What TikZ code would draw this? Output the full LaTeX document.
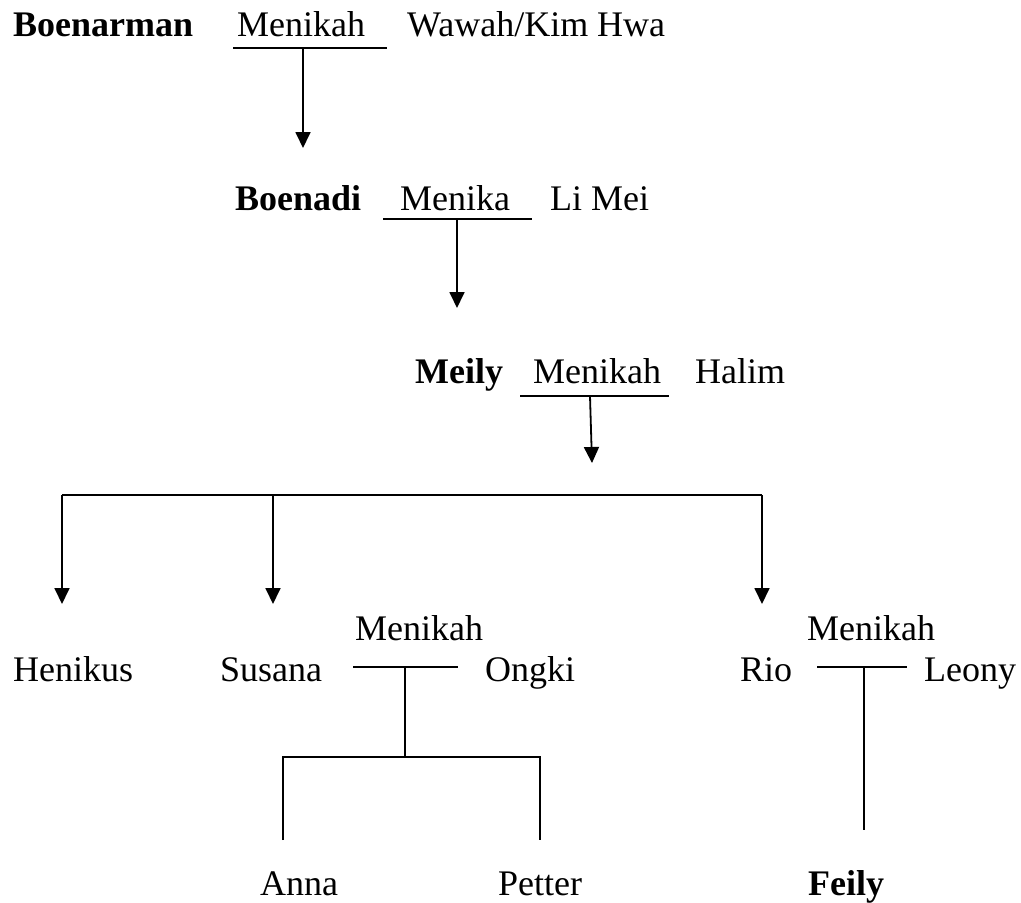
\documentclass[tikz,border=0pt]{standalone}
\usepackage{fontspec}
\setmainfont{Liberation Serif}
\usepackage{tikz}
\usetikzlibrary{arrows.meta,positioning}
\tikzset{
  person/.style={inner sep=0pt,anchor=base west,font=\fontsize{36}{40}\selectfont},
  mainperson/.style={person,font=\fontsize{36}{40}\selectfont\bfseries},
  bar/.style={line width=2pt},
  link/.style={line width=1.8pt},
  downarrow/.style={link,-{Triangle[length=16pt,width=15pt]}}
}

\begin{document}
\begin{tikzpicture}[x=1pt,y=-1pt]
\useasboundingbox (0,0) rectangle (1021,903);
% generation 1
\node[mainperson] (boenarman) at (13,36) {Boenarman};
\node[person] (menikahA) at (237,36) {Menikah};
\node[person] (wawah) at (407,36) {Wawah/Kim Hwa};
\coordinate (barAl) at (233,48);
\coordinate (barAr) at (387,48);
\coordinate (barA) at (303,48);
\coordinate (endA) at (303,148);
\draw[bar] (barAl) -- (barAr);
\draw[downarrow] (barA) -- (endA);
% generation 2
\node[mainperson] (boenadi) at (235,210) {Boenadi};
\node[person] (menikahB) at (400,210) {Menika};
\node[person] (limei) at (550,210) {Li Mei};
\coordinate (barBl) at (383,219);
\coordinate (barBr) at (532,219);
\coordinate (barB) at (457,219);
\coordinate (endB) at (457,308);
\draw[bar] (barBl) -- (barBr);
\draw[downarrow] (barB) -- (endB);
% generation 3
\node[mainperson] (meily) at (415,383) {Meily};
\node[person] (menikahC) at (533,383) {Menikah};
\node[person] (halim) at (695,383) {Halim};
\coordinate (barCl) at (520,396);
\coordinate (barCr) at (669,396);
\coordinate (barC) at (590,396);
\coordinate (endC) at (592,463);
\draw[bar] (barCl) -- (barCr);
\draw[downarrow] (barC) -- (endC);
% children of Meily and Halim
\coordinate (forkl) at (62,495);
\coordinate (forkm) at (273,495);
\coordinate (forkr) at (762,495);
\draw[bar] (forkl) -- (forkr);
\foreach \k in {forkl,forkm,forkr}
  \draw[downarrow] (\k) -- ++(0,109);
\node[person] (henikus) at (13,681) {Henikus};
\node[person] (susana) at (220,681) {Susana};
\node[person] (menikahD) at (355,640) {Menikah};
\node[person] (ongki) at (485,681) {Ongki};
\node[person] (rio) at (740,681) {Rio};
\node[person] (menikahE) at (807,640) {Menikah};
\node[person] (leony) at (924,681) {Leony};
\coordinate (barDl) at (353,667);
\coordinate (barDr) at (458,667);
\coordinate (barD) at (405,667);
\coordinate (forkD) at (405,757);
\draw[bar] (barDl) -- (barDr);
\draw[link] (barD) -- (forkD);
\coordinate (annatop) at (283,840);
\coordinate (pettertop) at (540,840);
\draw[link] (annatop) |- (forkD) -| (pettertop);
\coordinate (barEl) at (817,667);
\coordinate (barEr) at (907,667);
\coordinate (barE) at (864,667);
\coordinate (feilytop) at (864,830);
\draw[bar] (barEl) -- (barEr);
\draw[link] (barE) -- (feilytop);
% grandchildren
\node[person] (anna) at (260,895) {Anna};
\node[person] (petter) at (498,895) {Petter};
\node[mainperson] (feily) at (808,895) {Feily};
\end{tikzpicture}
\end{document}
